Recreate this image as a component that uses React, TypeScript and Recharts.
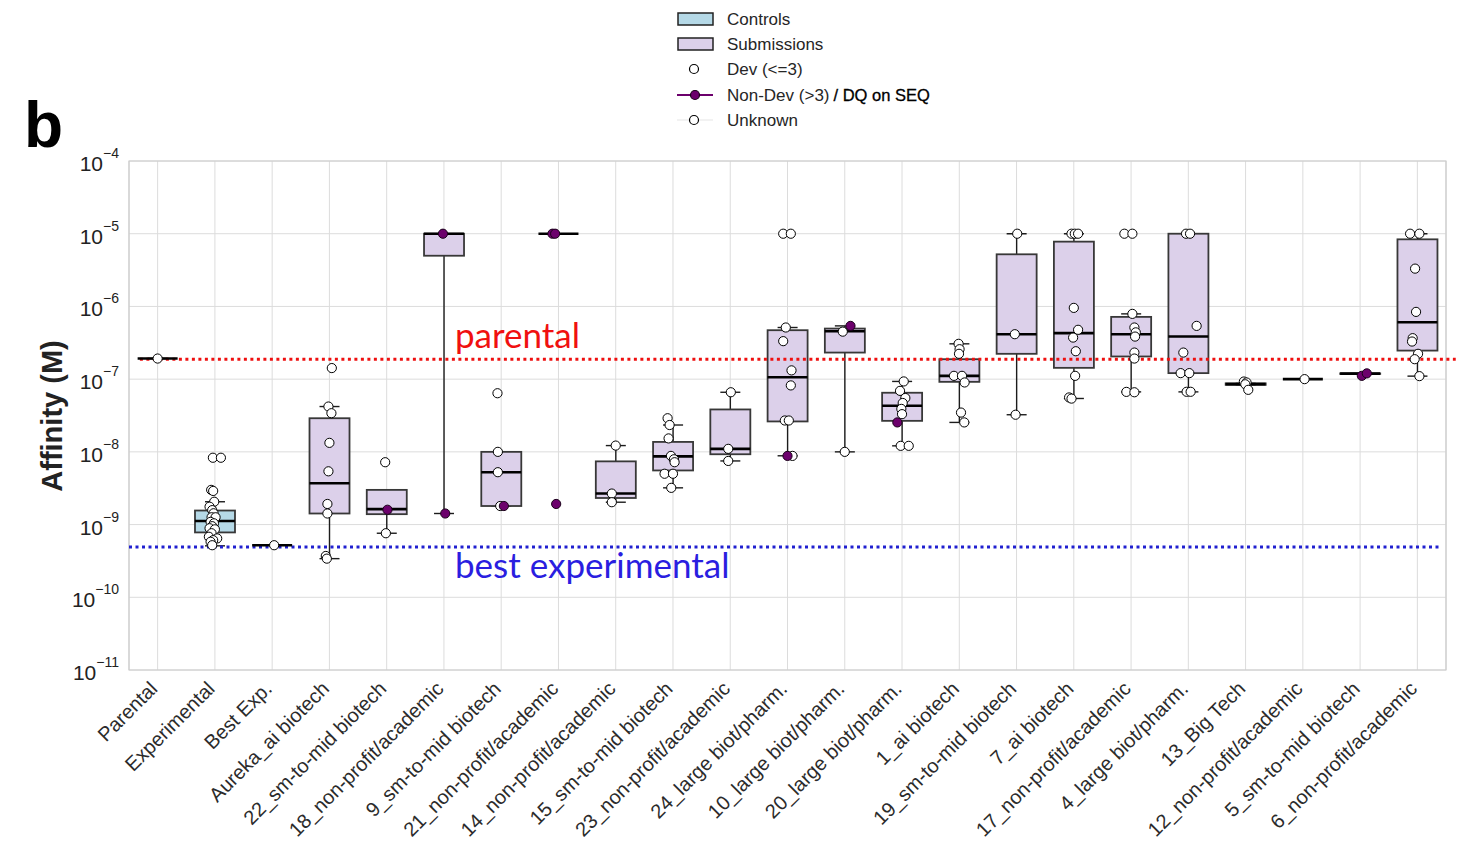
import React from "react";
import {
  ComposedChart,
  Bar,
  Scatter,
  XAxis,
  YAxis,
  CartesianGrid,
  ReferenceLine,
  ReferenceArea,
} from "recharts";

// ---------- data ----------
const categories = [
  "Parental",
  "Experimental",
  "Best Exp.",
  "Aureka_ai biotech",
  "22_sm-to-mid biotech",
  "18_non-profit/academic",
  "9_sm-to-mid biotech",
  "21_non-profit/academic",
  "14_non-profit/academic",
  "15_sm-to-mid biotech",
  "23_non-profit/academic",
  "24_large biot/pharm.",
  "10_large biot/pharm.",
  "20_large biot/pharm.",
  "1_ai biotech",
  "19_sm-to-mid biotech",
  "7_ai biotech",
  "17_non-profit/academic",
  "4_large biot/pharm.",
  "13_Big Tech",
  "12_non-profit/academic",
  "5_sm-to-mid biotech",
  "6_non-profit/academic",
];

const isControl = [
  true, true, true, false, false, false, false, false, false, false, false, false,
  false, false, false, false, false, false, false, false, false, false, false,
];

const q1 = [
  1.92e-7, 7.8e-10, 5.2e-10, 1.42e-9, 1.39e-9, 4.98e-6, 1.8e-9, 1e-5, 2.32e-9, 5.55e-9, 9.27e-9, 2.62e-8,
  2.32e-7, 2.67e-8, 9.18e-8, 2.23e-7, 1.43e-7, 2.05e-7, 1.21e-7, 8.35e-8, 1e-7, 1.18e-7, 2.47e-7,
];
const median = [
  1.92e-7, 1.12e-9, 5.2e-10, 3.7e-9, 1.63e-9, 1e-5, 5.25e-9, 1e-5, 2.67e-9, 8.67e-9, 1.1e-8, 1.06e-7,
  4.56e-7, 4.3e-8, 1.11e-7, 4.15e-7, 4.29e-7, 4.15e-7, 3.85e-7, 8.55e-8, 1e-7, 1.19e-7, 6.07e-7,
];
const q3 = [
  1.92e-7, 1.56e-9, 5.2e-10, 2.9e-8, 3.0e-9, 1e-5, 1e-8, 1e-5, 7.4e-9, 1.37e-8, 3.83e-8, 4.71e-7,
  4.96e-7, 6.5e-8, 1.88e-7, 5.21e-6, 7.78e-6, 7.18e-7, 1e-5, 8.75e-8, 1e-7, 1.2e-7, 8.37e-6,
];
const whiskerLow = [
  1.92e-7, 5.1e-10, 5.2e-10, 3.4e-10, 7.6e-10, 1.42e-9, 1.8e-9, 1e-5, 2.03e-9, 3.2e-9, 7.5e-9, 8.83e-9,
  1e-8, 1.21e-8, 2.54e-8, 3.24e-8, 5.42e-8, 6.68e-8, 6.68e-8, 8.35e-8, 1e-7, 1.18e-7, 1.1e-7,
];
const whiskerHigh = [
  1.92e-7, 2.06e-9, 5.2e-10, 4.2e-8, 3.0e-9, 1e-5, 1e-8, 1e-5, 1.22e-8, 2.34e-8, 6.6e-8, 5.13e-7,
  5.4e-7, 9.3e-8, 3.06e-7, 1e-5, 1e-5, 7.9e-7, 1e-5, 8.75e-8, 1e-7, 1.2e-7, 1e-5,
];

// [category index, jitter (in category units), affinity]
const devPoints: [number, number, number][] = [
  [0, 0, 1.92e-7],
  [1, -0.035, 8.3e-9], [1, 0.105, 8.3e-9], [1, -0.065, 3.0e-9], [1, -0.03, 2.9e-9], [1, -0.012, 2.06e-9],
  [1, -0.093, 1.76e-9], [1, -0.047, 1.58e-9], [1, -0.023, 1.43e-9], [1, -0.058, 1.26e-9], [1, 0.012, 1.26e-9],
  [1, -0.075, 1.09e-9], [1, -0.017, 1.04e-9], [1, -0.047, 9.5e-10], [1, -0.093, 8.9e-10], [1, 0, 8.6e-10],
  [1, -0.058, 7.6e-10], [1, -0.105, 6.8e-10], [1, 0.04, 6.45e-10], [1, -0.03, 6.1e-10], [1, -0.075, 5.8e-10],
  [1, -0.047, 5.2e-10],
  [2, 0.035, 5.2e-10],
  [3, 0.042, 1.42e-7], [3, -0.017, 4.2e-8], [3, 0.035, 3.4e-8], [3, 0, 1.33e-8], [3, -0.017, 5.4e-9],
  [3, -0.035, 1.92e-9], [3, -0.035, 1.42e-9], [3, -0.063, 3.7e-10], [3, -0.045, 3.4e-10],
  [4, -0.026, 7.2e-9], [4, -0.014, 7.6e-10],
  [6, -0.065, 6.4e-8], [6, -0.058, 1e-8], [6, -0.058, 5.25e-9], [6, -0.017, 1.8e-9],
  [8, 0, 1.22e-8], [8, -0.068, 2.67e-9], [8, -0.068, 2.03e-9],
  [9, -0.094, 2.9e-8], [9, -0.059, 2.34e-8], [9, -0.077, 1.53e-8], [9, -0.035, 8.8e-9], [9, 0.017, 7.9e-9],
  [9, 0.028, 7.2e-9], [9, -0.147, 5e-9], [9, 0, 5e-9], [9, -0.03, 3.2e-9],
  [10, 0.01, 6.6e-8], [10, -0.035, 1.1e-8], [10, -0.035, 7.5e-9],
  [11, -0.075, 1e-5], [11, 0.058, 1e-5], [11, -0.03, 5.13e-7], [11, -0.075, 3.33e-7], [11, 0.07, 1.32e-7],
  [11, 0.058, 8.2e-8], [11, -0.047, 2.7e-8], [11, 0.023, 2.7e-8], [11, 0.087, 8.8e-9],
  [12, -0.035, 4.5e-7], [12, 0, 1e-8],
  [13, 0.03, 9.3e-8], [13, -0.035, 6.9e-8], [13, 0.058, 5.5e-8], [13, 0.012, 4.7e-8], [13, -0.012, 3.9e-8],
  [13, 0, 3.3e-8], [13, -0.023, 1.21e-8], [13, 0.117, 1.21e-8],
  [14, -0.012, 3.06e-7], [14, 0.005, 2.58e-7], [14, -0.005, 2.23e-7], [14, -0.093, 1.11e-7], [14, 0.047, 1.11e-7],
  [14, 0.093, 9.0e-8], [14, 0.03, 3.47e-8], [14, 0.087, 2.54e-8],
  [15, 0.012, 1e-5], [15, -0.03, 4.15e-7], [15, -0.017, 3.24e-8],
  [16, -0.04, 1e-5], [16, 0.017, 1e-5], [16, 0.075, 1e-5], [16, 0, 9.55e-7], [16, 0.075, 4.77e-7],
  [16, -0.012, 3.73e-7], [16, 0.035, 2.42e-7], [16, 0.023, 1.11e-7], [16, -0.082, 5.6e-8], [16, -0.04, 5.4e-8],
  [17, -0.117, 1e-5], [17, 0.023, 1e-5], [17, 0.023, 7.9e-7], [17, 0.058, 5.13e-7], [17, 0.082, 4.4e-7],
  [17, 0.07, 3.85e-7], [17, 0.058, 2.32e-7], [17, 0.058, 1.92e-7], [17, -0.082, 6.68e-8], [17, 0.058, 6.6e-8],
  [18, -0.04, 1e-5], [18, 0.03, 1e-5], [18, 0.145, 5.4e-7], [18, -0.087, 2.32e-7], [18, -0.134, 1.21e-7],
  [18, 0.017, 1.21e-7], [18, -0.03, 6.7e-8], [18, 0.04, 6.7e-8],
  [19, -0.03, 9.27e-8], [19, 0.017, 9.0e-8], [19, -0.005, 8.5e-8], [19, 0.047, 7.13e-8],
  [20, 0.03, 1e-7],
  [22, -0.127, 1e-5], [22, 0.035, 1e-5], [22, -0.04, 3.31e-6], [22, -0.023, 8.41e-7], [22, -0.082, 3.66e-7],
  [22, -0.093, 3.29e-7], [22, 0.012, 2.23e-7], [22, -0.047, 1.88e-7], [22, 0.035, 1.1e-7],
];

const nonDevPoints: [number, number, number][] = [
  [4, 0.014, 1.6e-9],
  [5, -0.017, 1e-5], [5, 0.023, 1.42e-9],
  [6, 0.047, 1.8e-9],
  [7, -0.105, 1e-5], [7, -0.058, 1e-5], [7, -0.04, 1.92e-9],
  [11, 0, 8.8e-9],
  [12, 0.1, 5.4e-7],
  [13, -0.082, 2.54e-8],
  [21, 0.03, 1.11e-7], [21, 0.117, 1.2e-7],
];

const yTicks = [1e-11, 1e-10, 1e-9, 1e-8, 1e-7, 1e-6, 1e-5, 1e-4];
const parentalLevel = 1.88e-7;
const bestExperimentalLevel = 4.9e-10;

// ---------- derived tables ----------
const rows = categories.map((name, i) => ({
  name,
  control: isControl[i],
  box: [q1[i], q3[i]],
  whisk: [whiskerLow[i], whiskerHigh[i]],
}));
const medianRows = categories.map((_, i) => ({ x: i, y: median[i] }));
const devRows = devPoints.map(([c, j, v]) => ({ x: c + j, y: v }));
const nonDevRows = nonDevPoints.map(([c, j, v]) => ({ x: c + j, y: v }));
const catIndex = categories.map((_, i) => i);

// ---------- styles ----------
const FONT = '"Liberation Sans", Arial, Helvetica, sans-serif';
const CONTROL_FILL = "#b5d9e7";
const SUBMISSION_FILL = "#dcd0ea";
const PURPLE = "#6c006c";
const BOX_STROKE = "#383838";

function WhiskerShape(props: any) {
  const { x, y, width, height } = props;
  if (x == null || y == null) return null;
  const cx = x + width / 2;
  const top = Math.min(y, y + height);
  const bot = Math.max(y, y + height);
  return (
    <g>
      <line x1={cx} x2={cx} y1={top} y2={bot} stroke="#1c1c1c" strokeWidth={1.4} />
      <line x1={cx - 10} x2={cx + 10} y1={top} y2={top} stroke="#1c1c1c" strokeWidth={1.4} />
      <line x1={cx - 10} x2={cx + 10} y1={bot} y2={bot} stroke="#1c1c1c" strokeWidth={1.4} />
    </g>
  );
}

function BoxShape(props: any) {
  const { x, y, width, height, payload } = props;
  if (x == null || y == null) return null;
  const cx = x + width / 2;
  const top = Math.min(y, y + height);
  const h = Math.abs(height);
  return (
    <rect
      x={cx - 20}
      y={top}
      width={40}
      height={h}
      fill={payload && payload.control ? CONTROL_FILL : SUBMISSION_FILL}
      stroke={BOX_STROKE}
      strokeWidth={1.8}
    />
  );
}

function MedianShape(props: any) {
  const { cx, cy } = props;
  if (cx == null || cy == null) return null;
  return <line x1={cx - 20} x2={cx + 20} y1={cy} y2={cy} stroke="#000" strokeWidth={2.6} />;
}

function DevShape(props: any) {
  const { cx, cy } = props;
  if (cx == null || cy == null) return null;
  return <circle cx={cx} cy={cy} r={4.6} fill="#fff" stroke="#000" strokeWidth={1} />;
}

function NonDevShape(props: any) {
  const { cx, cy } = props;
  if (cx == null || cy == null) return null;
  return <circle cx={cx} cy={cy} r={4.6} fill={PURPLE} stroke="#1a001a" strokeWidth={1} />;
}

function YTick(props: any) {
  const { x, y, payload } = props;
  const exp = Math.round(Math.log10(payload.value));
  return (
    <text x={x - 2} y={y + 10} textAnchor="end" fontFamily={FONT} fill="#222">
      <tspan fontSize={21}>10</tspan>
      <tspan fontSize={14} dy={-13}>{"\u2212" + Math.abs(exp)}</tspan>
    </text>
  );
}

function XTick(props: any) {
  const { x, y, payload } = props;
  const label = categories[payload.value] ?? "";
  const ax = x + 1;
  const ay = y - 18;
  return (
    <text
      x={ax}
      y={ay}
      textAnchor="end"
      fontFamily={FONT}
      fontSize={20}
      fill="#2b2b2b"
      transform={`rotate(-45 ${ax} ${ay})`}
    >
      {label}
    </text>
  );
}

function Overlay() {
  const rowY = [19, 44, 69, 95, 120];
  const textX = 727;
  return (
    <svg
      width={1464}
      height={844}
      style={{ position: "absolute", left: 0, top: 0, pointerEvents: "none" }}
    >
      {/* legend */}
      <rect x={678} y={rowY[0] - 6} width={35} height={12} fill={CONTROL_FILL} stroke="#222" strokeWidth={1.5} />
      <rect x={678} y={rowY[1] - 6} width={35} height={12} fill={SUBMISSION_FILL} stroke="#222" strokeWidth={1.5} />
      <circle cx={694} cy={rowY[2]} r={4.5} fill="#fff" stroke="#000" strokeWidth={1.2} />
      <line x1={677} x2={713} y1={rowY[3]} y2={rowY[3]} stroke={PURPLE} strokeWidth={2} />
      <circle cx={695} cy={rowY[3]} r={4.5} fill={PURPLE} stroke="#1a001a" strokeWidth={1.2} />
      <line x1={677} x2={713} y1={rowY[4]} y2={rowY[4]} stroke="#eeeeee" strokeWidth={1.5} />
      <circle cx={694} cy={rowY[4]} r={4.5} fill="#fff" stroke="#000" strokeWidth={1.2} />
      <g fontFamily={FONT} fontSize={17} fill="#262626">
        <text x={textX} y={rowY[0] + 6}>Controls</text>
        <text x={textX} y={rowY[1] + 6}>Submissions</text>
        <text x={textX} y={rowY[2] + 6}>Dev (&lt;=3)</text>
        <text x={textX} y={rowY[3] + 6}>
          Non-Dev (&gt;3)
          <tspan fill="#000" fontSize={16.5} dx={4} stroke="#000" strokeWidth={0.3}>/ DQ on SEQ</tspan>
        </text>
        <text x={textX} y={rowY[4] + 6}>Unknown</text>
      </g>
      {/* panel letter */}
      <text x={24} y={147} fontFamily={FONT} fontWeight="bold" fontSize={64} fill="#000">b</text>
      {/* y-axis label */}
      <text
        x={62}
        y={416}
        textAnchor="middle"
        fontFamily={FONT}
        fontWeight="bold"
        fontSize={29}
        fill="#222"
        transform="rotate(-90 62 416)"
      >
        Affinity (M)
      </text>
      {/* annotations */}
      <text x={455} y={348} fontFamily="Lato, 'Open Sans', sans-serif" fontSize={35} fill="#f01010">parental</text>
      <text x={455} y={578} fontFamily="Lato, 'Open Sans', sans-serif" fontSize={35} fill="#2a1ee0">best experimental</text>
    </svg>
  );
}

export default function App() {
  return (
    <div style={{ position: "absolute", left: 0, top: 0, width: 1464, height: 844, background: "#fff" }}>
      <ComposedChart
        width={1464}
        height={844}
        data={rows}
        margin={{ top: 161, right: 18, left: 69, bottom: 14 }}
      >
        <CartesianGrid xAxisId="num" stroke="#dcdcdc" strokeWidth={1} />
        <XAxis
          xAxisId="num"
          type="number"
          dataKey="x"
          domain={[-0.5, 22.5]}
          allowDataOverflow
          ticks={catIndex}
          interval={0}
          tick={<XTick />}
          tickLine={false}
          axisLine={false}
          height={160}
        />
        <XAxis xAxisId="whisk" dataKey="name" type="category" hide />
        <XAxis xAxisId="box" dataKey="name" type="category" hide />
        <YAxis
          type="number"
          scale="log"
          domain={[1e-11, 1e-4]}
          allowDataOverflow
          ticks={yTicks}
          interval={0}
          tick={<YTick />}
          tickLine={false}
          axisLine={false}
          width={60}
        />
        <ReferenceArea
          xAxisId="num"
          x1={-0.5}
          x2={22.5}
          y1={1e-11}
          y2={1e-4}
          fill="none"
          fillOpacity={0}
          stroke="#cccccc"
          strokeWidth={1.2}
          ifOverflow="visible"
        />
        <Bar xAxisId="whisk" dataKey="whisk" shape={<WhiskerShape />} isAnimationActive={false} />
        <Bar xAxisId="box" dataKey="box" shape={<BoxShape />} isAnimationActive={false} />
        <Scatter xAxisId="num" data={medianRows} dataKey="y" shape={<MedianShape />} isAnimationActive={false} />
        <ReferenceLine
          xAxisId="num"
          segment={[{ x: -0.31, y: parentalLevel }, { x: 22.67, y: parentalLevel }]}
          stroke="#ee1010"
          strokeWidth={3}
          strokeDasharray="3 3.5"
          ifOverflow="visible"
        />
        <ReferenceLine
          xAxisId="num"
          segment={[{ x: -0.5, y: bestExperimentalLevel }, { x: 22.41, y: bestExperimentalLevel }]}
          stroke="#2020d0"
          strokeWidth={3}
          strokeDasharray="3 3.5"
          ifOverflow="visible"
        />
        <Scatter xAxisId="num" data={devRows} dataKey="y" shape={<DevShape />} isAnimationActive={false} />
        <Scatter xAxisId="num" data={nonDevRows} dataKey="y" shape={<NonDevShape />} isAnimationActive={false} />
      </ComposedChart>
      <Overlay />
    </div>
  );
}
